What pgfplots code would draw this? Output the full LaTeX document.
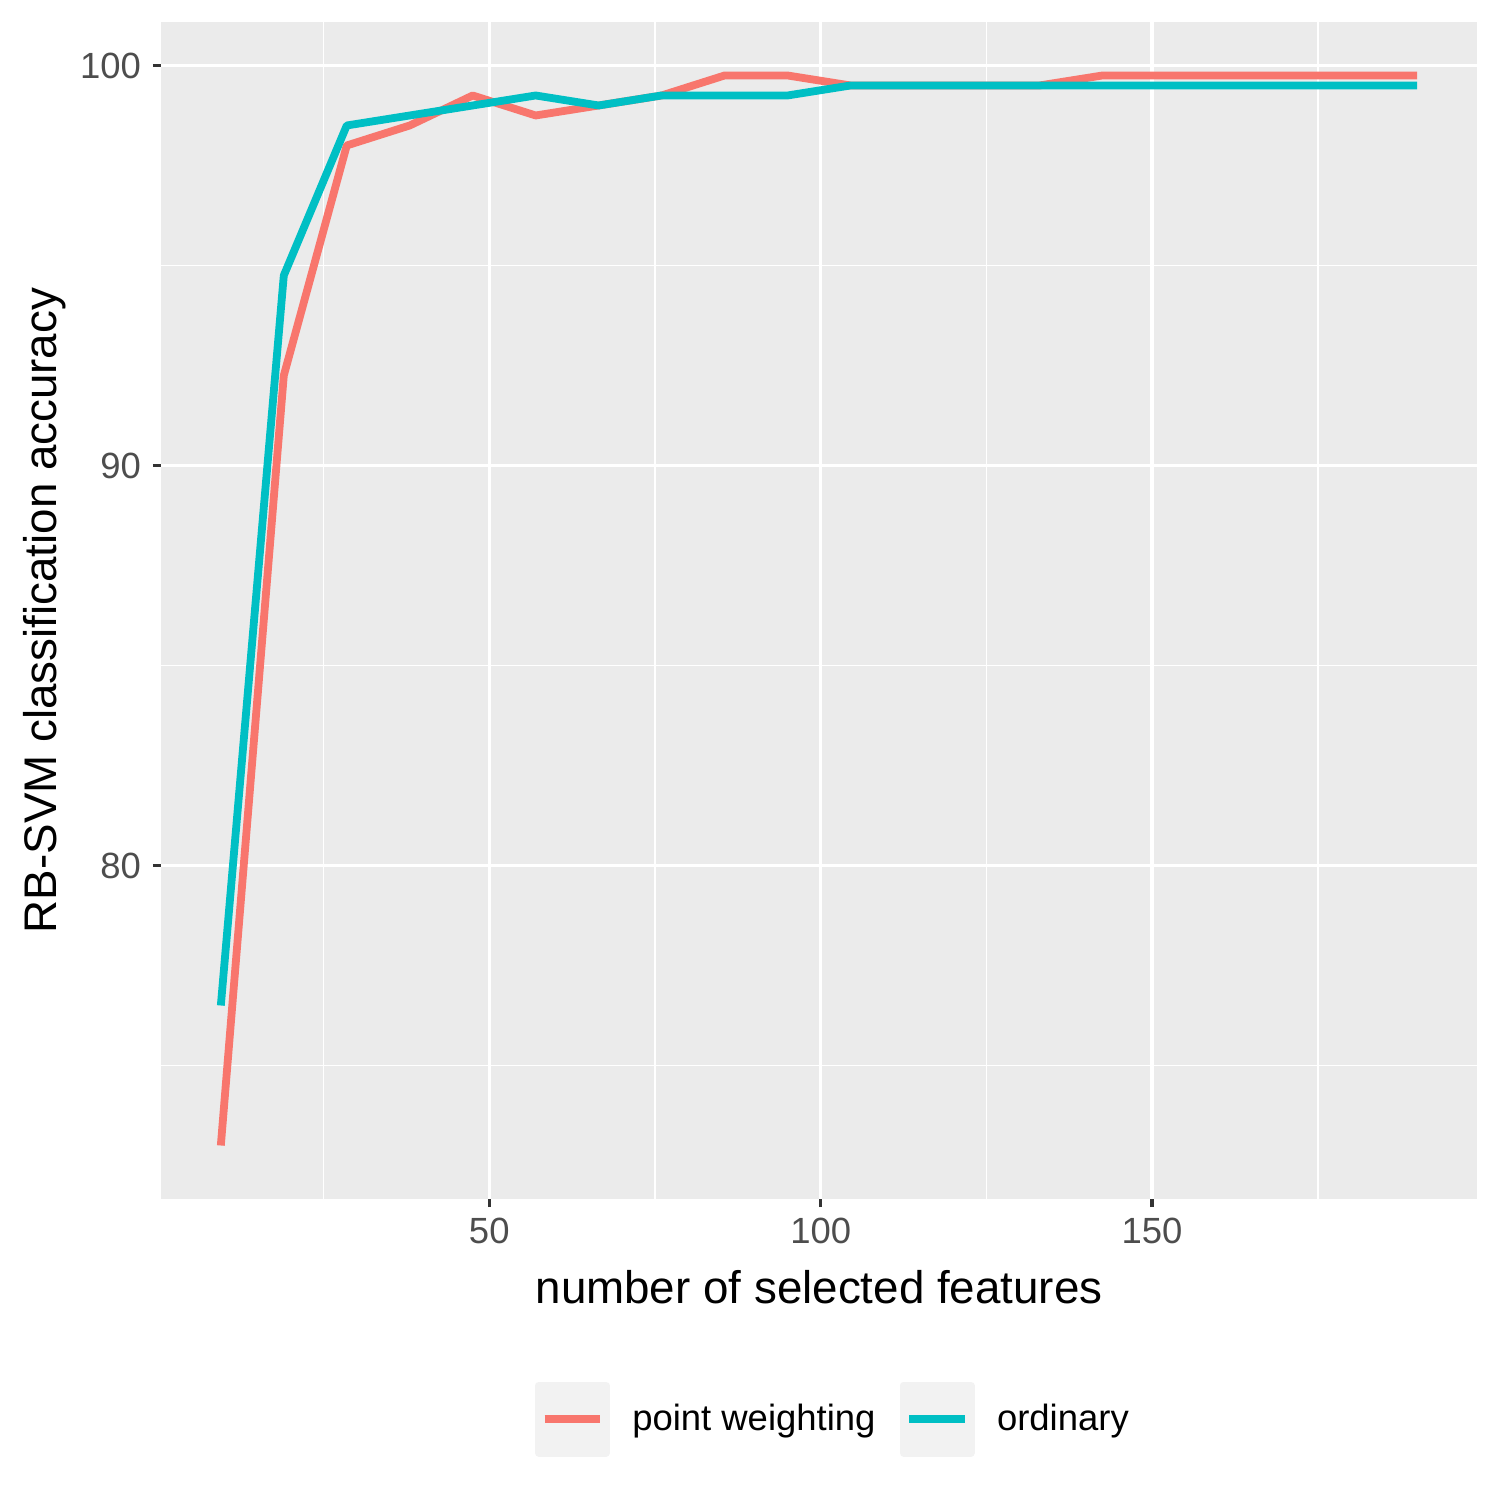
\documentclass[border=0pt]{standalone}
\usepackage{pgfplots}
\pgfplotsset{compat=1.18}
\usepackage{fontspec}
\setmainfont{Liberation Sans}
\definecolor{panelbg}{HTML}{EBEBEB}
\definecolor{legkey}{HTML}{F2F2F2}
\definecolor{pwcol}{HTML}{F8766D}
\definecolor{ordcol}{HTML}{00BFC4}
\definecolor{ticklab}{HTML}{4D4D4D}
\definecolor{tickcol}{HTML}{333333}
\begin{document}
\begin{tikzpicture}[x=1bp,y=1bp]
\path[use as bounding box] (0,0) rectangle (500,500);
\begin{axis}[
  at={(53.67bp,100.33bp)}, anchor=south west,
  scale only axis, width=438.67bp, height=392.33bp,
  xmin=0.475, xmax=199.025, ymin=71.6625, ymax=101.0875,
  axis background/.style={fill=panelbg},
  axis line style={draw=none},
  xtick={50,100,150}, ytick={80,90,100},
  minor xtick={25,75,125,175}, minor ytick={75,85,95},
  grid=both,
  major grid style={white, line width=1.1bp},
  minor grid style={white, line width=0.55bp},
  tick style={tickcol, line width=1.1bp},
  major tick length=2.7bp, minor tick length=0pt,
  tick align=outside,
  xtick pos=bottom, ytick pos=left,
  ticklabel style={font=\fontsize{12.2}{14}\selectfont, text=ticklab},
  /pgf/number format/assume math mode=true,
  xticklabel style={yshift=0bp},
  yticklabel style={xshift=-0.5bp},
  xlabel={number of selected features},
  ylabel={RB-SVM classification accuracy},
  label style={font=\fontsize{15.3}{17}\selectfont, text=black},
  xlabel style={at={(axis description cs:0.5,-0.0885)}, anchor=base},
  ylabel style={at={(axis description cs:-0.0795,0.5)}, anchor=base, rotate=0},
  legend columns=2,
  legend style={at={(axis description cs:0.5148,-0.187)}, anchor=center,
    draw=none, fill=none, font=\fontsize{12.2}{14}\selectfont,
    /tikz/every even column/.append style={column sep=3.5bp},
    nodes={inner xsep=4.5bp}},
  legend image code/.code={
    \fill[legkey] (0bp,-11.2bp) rectangle (22.4bp,11.2bp);
    \path (25.4bp,0bp);
    \draw[#1] (2bp,0bp) -- (20.4bp,0bp);},
  every axis plot/.append style={line width=2.6bp, line cap=butt, line join=round},
]
\addplot[pwcol] coordinates {
(9.5,73.0) (19,92.25) (28.5,98.0) (38,98.5) (47.5,99.25) (57,98.75) (66.5,99.0) (76,99.25) (85.5,99.75) (95,99.75)
(104.5,99.5) (114,99.5) (123.5,99.5) (133,99.5) (142.5,99.75) (152,99.75) (161.5,99.75) (171,99.75) (180.5,99.75) (190,99.75)};
\addlegendentry{point weighting}
\addplot[ordcol] coordinates {
(9.5,76.5) (19,94.75) (28.5,98.5) (38,98.75) (47.5,99.0) (57,99.25) (66.5,99.0) (76,99.25) (85.5,99.25) (95,99.25)
(104.5,99.5) (114,99.5) (123.5,99.5) (133,99.5) (142.5,99.5) (152,99.5) (161.5,99.5) (171,99.5) (180.5,99.5) (190,99.5)};
\addlegendentry{ordinary}
\end{axis}
\end{tikzpicture}
\end{document}
